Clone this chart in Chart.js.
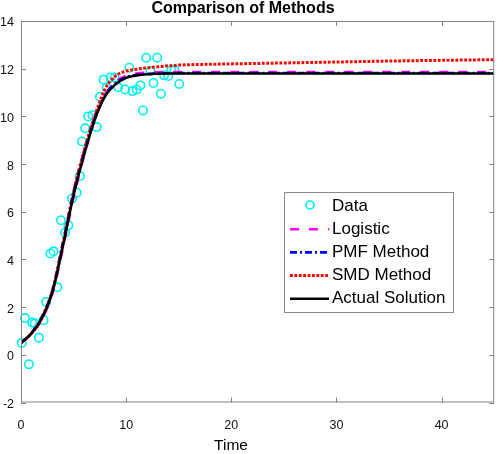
<!DOCTYPE html>
<html>
<head>
<meta charset="utf-8">
<script src="https://cdn.jsdelivr.net/npm/chart.js@4"></script>
<style>
  html, body { margin: 0; padding: 0; background: #fff; }
  #wrap { width: 500px; height: 454px; }
</style>
</head>
<body>
<div id="wrap"><canvas id="chart" width="500" height="454"></canvas></div>
<script>
// data
const dataT = [0.07, 0.38, 0.75, 1.06, 1.3, 1.7, 2.15, 2.4, 2.8, 3.1, 3.45, 3.8, 4.2, 4.5, 4.85, 5.3, 5.6, 5.8, 6.1, 6.4, 6.8, 7.2, 7.5, 7.85, 8.15, 8.5, 8.9, 9.25, 9.9, 10.3, 10.6, 11.0, 11.35, 11.6, 11.9, 12.3, 12.6, 12.95, 13.3, 13.6, 14.0, 14.3, 14.6, 15.05];
const dataY = [0.5, 1.54, -0.4, 1.35, 1.32, 0.72, 1.45, 2.22, 4.25, 4.34, 2.83, 5.64, 5.13, 5.43, 6.55, 6.8, 7.5, 8.95, 9.5, 10.0, 10.05, 9.55, 10.82, 11.54, 11.2, 11.63, 11.63, 11.22, 11.13, 12.04, 11.06, 11.13, 11.3, 10.25, 12.46, 11.9, 11.4, 12.46, 10.95, 11.72, 11.69, 11.94, 11.94, 11.36];

const curveT    = [0, 1, 2, 3, 4, 5, 6, 7, 8, 9, 10, 11, 12, 13, 14, 15, 20, 25, 30, 35, 40, 45];
const logisticY = [0.5, 0.88, 1.5, 2.6, 4.5, 6.6, 8.35, 9.85, 10.9, 11.45, 11.7, 11.8, 11.84, 11.85, 11.86, 11.86, 11.86, 11.86, 11.86, 11.86, 11.86, 11.86];
const pmfY      = [0.5, 0.92, 1.6, 2.75, 4.75, 6.85, 8.55, 9.95, 10.9, 11.4, 11.64, 11.74, 11.78, 11.8, 11.81, 11.82, 11.82, 11.82, 11.82, 11.82, 11.82, 11.82];
const smdY      = [0.5, 0.9, 1.55, 2.7, 4.65, 6.8, 8.55, 10.0, 11.15, 11.7, 11.9, 11.98, 12.04, 12.08, 12.12, 12.15, 12.2, 12.24, 12.28, 12.32, 12.35, 12.38];
const actualY   = [0.5, 0.9, 1.55, 2.65, 4.6, 6.7, 8.4, 9.85, 10.85, 11.35, 11.62, 11.72, 11.77, 11.79, 11.8, 11.8, 11.8, 11.8, 11.8, 11.8, 11.8, 11.8];

const xTicks = [0, 10, 20, 30, 40];
const yTicks = [-2, 0, 2, 4, 6, 8, 10, 12, 14];
const legendNames = ["Data", "Logistic", "PMF Method", "SMD Method", "Actual Solution"];

const FONT = "'Liberation Sans', Arial, sans-serif";
const AXIS = "#858585";

function pairs(xs, ys) {
  return xs.map((x, i) => ({ x: x, y: ys[i] }));
}

// frame, inward ticks, title, x label and legend box
const decor = {
  id: "decor",
  afterDatasetsDraw(chart) {
    const ctx = chart.ctx;
    const a = chart.chartArea;
    const sx = chart.scales.x, sy = chart.scales.y;
    ctx.save();
    ctx.strokeStyle = AXIS;
    ctx.lineWidth = 1;
    ctx.strokeRect(a.left + 0.5, a.top + 0.5, a.right - a.left - 1, a.bottom - a.top - 1);
    ctx.beginPath();
    xTicks.forEach((v) => {
      const p = Math.round(sx.getPixelForValue(v)) + 0.5;
      ctx.moveTo(p, a.bottom); ctx.lineTo(p, a.bottom - 5);
      ctx.moveTo(p, a.top); ctx.lineTo(p, a.top + 5);
    });
    yTicks.forEach((v) => {
      const p = Math.round(sy.getPixelForValue(v)) + 0.5;
      ctx.moveTo(a.left, p); ctx.lineTo(a.left + 5, p);
      ctx.moveTo(a.right, p); ctx.lineTo(a.right - 5, p);
    });
    ctx.stroke();

    // legend
    const lx = 284, ly = 192, lw = 169, lh = 120;
    ctx.fillStyle = "#fff";
    ctx.fillRect(lx, ly, lw, lh);
    ctx.strokeStyle = "#8a8a8a";
    ctx.strokeRect(lx + 0.5, ly + 0.5, lw, lh);
    ctx.font = "17px " + FONT;
    ctx.textBaseline = "middle";
    ctx.textAlign = "left";
    chart.data.datasets.forEach((ds, i) => {
      const y = 206 + i * 23.2;
      if (i === 0) {
        ctx.beginPath();
        ctx.strokeStyle = ds.borderColor;
        ctx.lineWidth = 1.6;
        ctx.arc(310, y - 1, 4, 0, Math.PI * 2);
        ctx.stroke();
      } else {
        ctx.beginPath();
        ctx.strokeStyle = ds.borderColor;
        ctx.lineWidth = ds.borderWidth;
        ctx.setLineDash(ds.borderDash || []);
        ctx.moveTo(290, y); ctx.lineTo(329, y);
        ctx.stroke();
        ctx.setLineDash([]);
      }
      ctx.fillStyle = "#000";
      ctx.fillText(legendNames[i], 332, y);
    });

    // title and axis label
    ctx.fillStyle = "#000";
    ctx.textAlign = "center";
    ctx.font = "bold 16px " + FONT;
    ctx.fillText("Comparison of Methods", 243, 9);
    ctx.font = "15.5px " + FONT;
    ctx.fillText("Time", 231, 446);
    ctx.restore();
  }
};

new Chart(document.getElementById("chart"), {
  type: "scatter",
  data: {
    datasets: [
      { label: legendNames[0], data: pairs(dataT, dataY), borderColor: "#00f0f0", backgroundColor: "rgba(0,0,0,0)",
        pointRadius: 4.2, pointBorderWidth: 1.6, showLine: false, order: 5, clip: 8 },
      { label: legendNames[1], data: pairs(curveT, logisticY), borderColor: "#ff00ff", borderWidth: 2.6,
        borderDash: [9, 10], showLine: true, pointRadius: 0, cubicInterpolationMode: "monotone", order: 4 },
      { label: legendNames[2], data: pairs(curveT, pmfY), borderColor: "#0000ff", borderWidth: 2.6,
        borderDash: [7, 3, 2, 3], showLine: true, pointRadius: 0, cubicInterpolationMode: "monotone", order: 3 },
      { label: legendNames[3], data: pairs(curveT, smdY), borderColor: "#ff0000", borderWidth: 3,
        borderDash: [2.8, 1.6], showLine: true, pointRadius: 0, cubicInterpolationMode: "monotone", order: 2 },
      { label: legendNames[4], data: pairs(curveT, actualY), borderColor: "#000000", borderWidth: 2.6,
        showLine: true, pointRadius: 0, cubicInterpolationMode: "monotone", order: 1 }
    ]
  },
  options: {
    responsive: false,
    animation: false,
    events: [],
    layout: { padding: { top: 21, right: 1, left: 0, bottom: 0 } },
    plugins: { legend: { display: false }, title: { display: false }, tooltip: { enabled: false } },
    scales: {
      x: {
        type: "linear", min: 0, max: 45,
        grid: { display: false, drawTicks: false, tickLength: 0 }, border: { display: false },
        afterBuildTicks: (s) => { s.ticks = xTicks.map((v) => ({ value: v })); },
        afterFit: (s) => { s.height = 51.5; },
        ticks: { font: { family: FONT, size: 12.5 }, color: "#111", padding: 16, maxRotation: 0 }
      },
      y: {
        type: "linear", min: -2, max: 14,
        grid: { display: false, drawTicks: false, tickLength: 0 }, border: { display: false },
        afterBuildTicks: (s) => { s.ticks = yTicks.map((v) => ({ value: v })); },
        afterFit: (s) => { s.width = 21; },
        ticks: { font: { family: FONT, size: 12.5 }, color: "#111", padding: 7, labelOffset: 2 }
      }
    }
  },
  plugins: [decor]
});
</script>
</body>
</html>
